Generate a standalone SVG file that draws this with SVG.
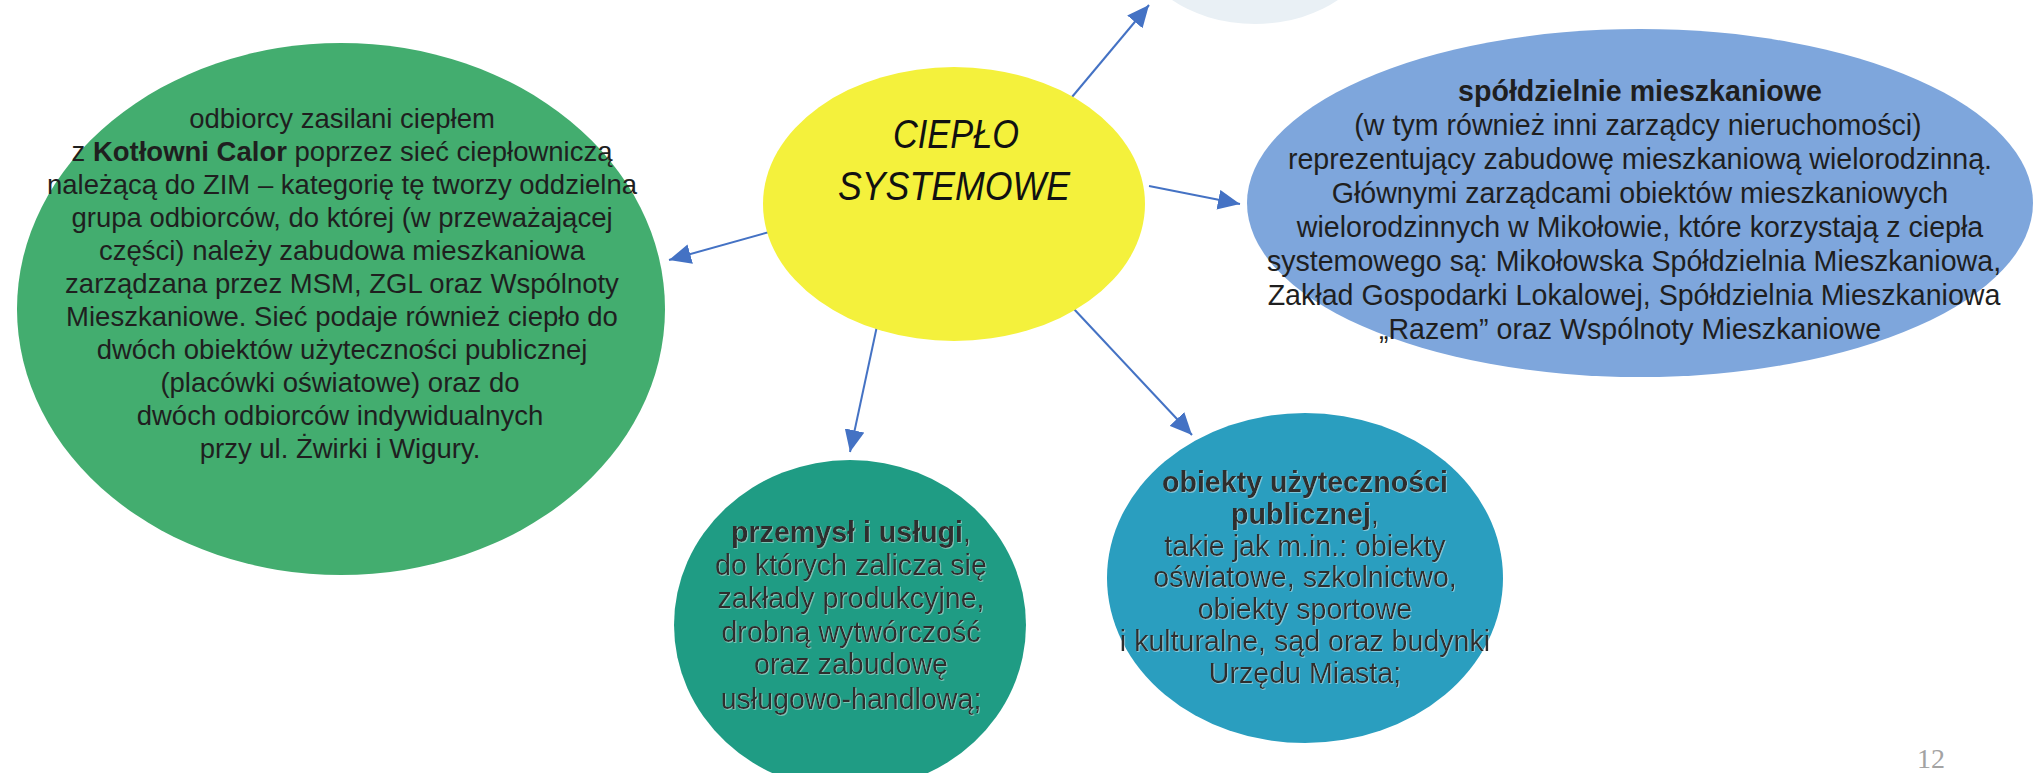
<svg xmlns="http://www.w3.org/2000/svg" width="2036" height="773" viewBox="0 0 2036 773">
<style>
.t{font-family:"Liberation Sans",Arial,sans-serif;font-size:27.5px;fill:#1f1f1f;text-anchor:middle}
.m{font-size:28.6px}
.e{fill:#2e2e2e;filter:url(#emb)}
.b{font-weight:bold}
.big{font-family:"Liberation Sans",Arial,sans-serif;font-size:40px;font-style:italic;fill:#111;text-anchor:middle}
.c{stroke:#4472c4;stroke-width:2;fill:none;marker-end:url(#ah)}
</style>
<defs>
<marker id="ah" markerUnits="userSpaceOnUse" markerWidth="24" markerHeight="20" refX="22" refY="10" orient="auto">
<path d="M0,0 L22,10 L0,20 Z" fill="#4472c4"/>
</marker>
<filter id="emb" x="-5%" y="-20%" width="110%" height="140%">
<feDropShadow dx="0.8" dy="0.8" stdDeviation="0.4" flood-color="#ffffff" flood-opacity="0.5"/>
</filter>
</defs>
<rect width="2036" height="773" fill="#ffffff"/>

<g id="top-node">
<ellipse cx="1255" cy="-66" rx="122" ry="90" fill="#e9f0f5"/>
</g>

<g id="connectors">
<line class="c" x1="1072" y1="97" x2="1149" y2="5"/>
<line class="c" x1="1149" y1="186" x2="1240" y2="204"/>
<line class="c" x1="773" y1="231" x2="669" y2="260"/>
<line class="c" x1="880" y1="312" x2="850" y2="452"/>
<line class="c" x1="1058" y1="292" x2="1192" y2="435"/>
</g>

<g id="cieplo-systemowe">
<ellipse cx="954" cy="204" rx="191" ry="137" fill="#f4f13c"/>
<text class="big" x="956" y="148" textLength="126" lengthAdjust="spacingAndGlyphs">CIEPŁO</text>
<text class="big" x="954" y="200" textLength="232" lengthAdjust="spacingAndGlyphs">SYSTEMOWE</text>
</g>

<g id="kotlownia-calor">
<ellipse cx="341" cy="309" rx="324" ry="266" fill="#43ad6f"/>
<text class="t" x="342" y="128">odbiorcy zasilani ciepłem</text>
<text class="t" x="342" y="161">z <tspan class="b">Kotłowni Calor</tspan> poprzez sieć ciepłowniczą</text>
<text class="t" x="342" y="194">należącą do ZIM – kategorię tę tworzy oddzielna</text>
<text class="t" x="342" y="227">grupa odbiorców, do której (w przeważającej</text>
<text class="t" x="342" y="260">części) należy zabudowa mieszkaniowa</text>
<text class="t" x="342" y="293">zarządzana przez MSM, ZGL oraz Wspólnoty</text>
<text class="t" x="342" y="326">Mieszkaniowe. Sieć podaje również ciepło do</text>
<text class="t" x="342" y="359">dwóch obiektów użyteczności publicznej</text>
<text class="t" x="340" y="392">(placówki oświatowe) oraz do</text>
<text class="t" x="340" y="425">dwóch odbiorców indywidualnych</text>
<text class="t" x="340" y="458">przy ul. Żwirki i Wigury.</text>
</g>

<g id="spoldzielnie">
<ellipse cx="1640" cy="203" rx="393" ry="174" fill="#7ea6dc"/>
<text class="t m b" x="1640" y="101">spółdzielnie mieszkaniowe</text>
<text class="t m" x="1638" y="135">(w tym również inni zarządcy nieruchomości)</text>
<text class="t m" x="1640" y="169">reprezentujący zabudowę mieszkaniową wielorodzinną.</text>
<text class="t m" x="1640" y="203">Głównymi zarządcami obiektów mieszkaniowych</text>
<text class="t m" x="1640" y="237">wielorodzinnych w Mikołowie, które korzystają z ciepła</text>
<text class="t m" x="1634" y="271">systemowego są: Mikołowska Spółdzielnia Mieszkaniowa,</text>
<text class="t m" x="1634" y="305">Zakład Gospodarki Lokalowej, Spółdzielnia Mieszkaniowa</text>
<text class="t m" x="1630" y="339">„Razem” oraz Wspólnoty Mieszkaniowe</text>
</g>

<g id="przemysl">
<ellipse cx="850" cy="625" rx="176" ry="165" fill="#1f9c84"/>
<text class="t m e" x="851" y="542"><tspan class="b">przemysł i usługi</tspan>,</text>
<text class="t m e" x="851" y="575">do których zalicza się</text>
<text class="t m e" x="851" y="608">zakłady produkcyjne,</text>
<text class="t m e" x="851" y="642">drobną wytwórczość</text>
<text class="t m e" x="851" y="674">oraz zabudowę</text>
<text class="t m e" x="851" y="709">usługowo-handlową;</text>
</g>

<g id="obiekty">
<ellipse cx="1305" cy="578" rx="198" ry="165" fill="#2a9ebf"/>
<text class="t m e b" x="1305" y="492">obiekty użyteczności</text>
<text class="t m e" x="1305" y="524"><tspan class="b">publicznej</tspan>,</text>
<text class="t m e" x="1305" y="556">takie jak m.in.: obiekty</text>
<text class="t m e" x="1305" y="587">oświatowe, szkolnictwo,</text>
<text class="t m e" x="1305" y="619">obiekty sportowe</text>
<text class="t m e" x="1305" y="651">i kulturalne, sąd oraz budynki</text>
<text class="t m e" x="1305" y="683">Urzędu Miasta;</text>
</g>

<text x="1931" y="768" font-family="'Liberation Serif',serif" font-size="28" fill="#a3a3a3" text-anchor="middle">12</text>
</svg>
